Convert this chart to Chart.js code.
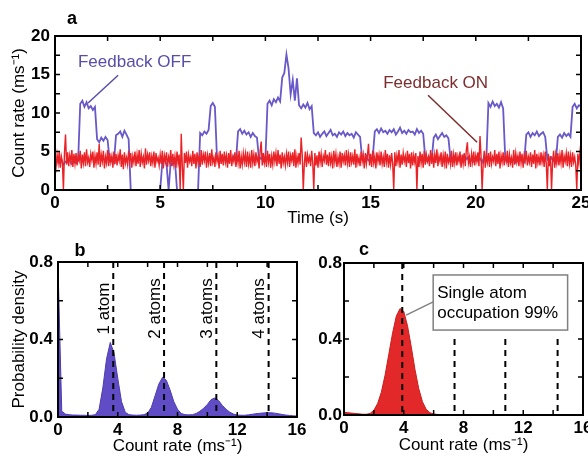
<!DOCTYPE html>
<html>
<head>
<meta charset="utf-8">
<script src="https://cdn.jsdelivr.net/npm/chart.js@4.4.1/dist/chart.umd.min.js"></script>
<style>
  html, body { margin: 0; padding: 0; background: #fff; overflow: hidden; width: 588px; height: 459px; }
  body { position: relative; }
  canvas { position: absolute; }
  #chartA { left: 0; top: 0; }
  #chartB { left: 0; top: 232px; }
  #chartC { left: 300px; top: 232px; }
</style>
</head>
<body>
<canvas id="chartA" width="600" height="232"></canvas>
<canvas id="chartB" width="320" height="227"></canvas>
<canvas id="chartC" width="300" height="227"></canvas>
<script>
// panel a: feedback ON trace, one sample every 0.05 s
const onStep = 0.05;
const feedbackOn = [
  4.1, 3.0, 4.6, 3.5, 5.0, 2.9, 4.4, 3.7, 0.0, 4.8, 7.2, 3.3, 4.9, 3.1, 4.5, 3.6, 5.2, 3.0, 4.7, 3.4,
  4.8, 3.2, 4.4, 3.8, 5.1, 2.8, 4.6, 3.5, 4.9, 3.1, 5.3, 3.6, 4.2, 3.0, 4.7, 3.9, 5.0, 2.9, 4.5, 3.4,
  4.9, 3.3, 6.0, 3.0, 4.6, 3.7, 5.1, 2.8, 4.3, 3.5, 5.2, 3.1, 4.8, 3.6, 4.4, 2.9, 5.0, 3.4, 4.7, 3.2,
  4.5, 3.8, 5.3, 3.0, 4.6, 2.7, 4.9, 3.5, 4.2, 3.3, 5.1, 3.7, 4.8, 2.9, 4.4, 3.6, 5.0, 3.1, 4.6, 3.4,
  5.2, 3.0, 4.7, 3.6, 4.3, 2.8, 5.4, 3.3, 4.6, 3.8, 4.9, 3.1, 4.4, 3.5, 5.0, 2.9, 4.8, 3.7, 4.2, 3.2,
  4.6, 3.4, 5.1, 2.8, 4.5, 3.7, 4.9, 3.0, 4.3, 3.6, 5.2, 3.1, 4.7, 3.3, 4.4, 2.9, 5.0, 3.5, 4.6, 0.0,
  7.3, 3.2, 0.0, 4.8, 3.5, 5.0, 2.9, 4.6, 3.7, 4.3, 3.1, 5.1, 3.4, 4.7, 2.8, 4.9, 3.6, 4.4, 3.0, 5.2,
  3.3, 4.6, 3.8, 5.0, 2.9, 4.5, 3.5, 4.8, 3.1, 5.3, 3.6, 4.2, 3.0, 4.9, 3.7, 4.4, 2.8, 5.1, 3.4, 4.7,
  3.2, 5.0, 3.6, 4.5, 2.9, 4.8, 3.4, 5.2, 3.1, 4.3, 3.7, 4.9, 3.0, 4.6, 3.5, 5.1, 2.8, 4.4, 3.3, 4.8,
  3.6, 4.7, 3.0, 5.0, 3.4, 4.4, 2.9, 5.2, 3.5, 4.6, 3.1, 4.9, 3.7, 4.3, 2.8, 5.1, 6.3, 3.2, 4.8, 3.5,
  4.5, 3.0, 5.1, 3.6, 4.7, 2.9, 4.4, 3.3, 5.0, 3.7, 4.8, 3.1, 5.2, 3.4, 4.6, 2.8, 4.9, 3.5, 4.3, 3.2,
  4.7, 3.6, 5.0, 3.0, 4.5, 3.8, 4.9, 3.1, 5.3, 2.9, 4.4, 3.5, 4.8, 3.3, 6.8, 4.6, 0.0, 3.4, 5.0, 3.0,
  4.6, 3.7, 4.3, 3.1, 5.1, 3.5, 0.0, 4.8, 3.2, 4.5, 2.9, 5.0, 3.6, 4.7, 3.0, 4.4, 3.8, 5.2, 3.3, 4.6,
  3.1, 4.9, 3.5, 4.4, 2.8, 5.1, 3.6, 4.7, 3.0, 4.3, 3.4, 5.0, 2.9, 4.8, 3.7, 4.5, 3.2, 5.2, 3.5, 4.6,
  3.0, 4.9, 3.6, 4.4, 3.3, 5.3, 2.9, 4.7, 3.5, 4.2, 3.1, 5.0, 3.7, 4.6, 2.8, 4.8, 3.4, 4.5, 6.0, 3.2,
  4.7, 3.0, 5.1, 3.5, 4.4, 2.8, 4.9, 3.7, 4.6, 3.2, 5.0, 3.4, 4.3, 3.0, 5.2, 3.6, 4.7, 2.9, 4.5, 3.3,
  4.8, 3.4, 0.0, 4.9, 3.1, 4.5, 3.6, 5.2, 2.9, 4.6, 3.3, 4.8, 3.7, 4.4, 3.0, 5.1, 3.5, 4.7, 2.8, 4.9,
  3.2, 4.5, 3.6, 4.8, 0.0, 4.4, 3.0, 5.0, 3.5, 4.7, 2.9, 5.1, 3.3, 4.6, 3.7, 4.3, 3.1, 5.2, 3.4, 4.8,
  2.9, 4.6, 3.5, 5.3, 3.1, 4.4, 3.7, 4.9, 3.0, 4.5, 3.4, 5.0, 2.8, 4.7, 3.6, 4.2, 3.3, 5.1, 3.0, 4.6,
  3.5, 4.9, 3.2, 4.4, 3.7, 5.0, 2.9, 4.6, 3.4, 4.8, 3.1, 5.2, 6.2, 3.5, 4.3, 3.0, 4.7, 3.6, 5.0, 3.2,
  4.5, 3.7, 4.9, 3.1, 7.0, 4.4, 0.0, 3.3, 5.1, 2.9, 4.6, 3.6, 4.8, 3.0, 5.0, 3.4, 4.3, 3.7, 5.2, 3.1,
  4.7, 3.4, 5.0, 2.8, 4.5, 3.6, 4.9, 3.2, 4.4, 3.7, 5.1, 3.0, 4.6, 3.5, 4.2, 2.9, 5.2, 3.3, 4.8, 3.6,
  4.4, 3.1, 5.0, 3.5, 4.7, 2.9, 4.5, 3.8, 5.1, 3.2, 4.3, 3.6, 4.9, 3.0, 4.6, 3.4, 5.2, 2.8, 4.7, 3.5,
  4.4, 3.2, 4.9, 3.6, 4.5, 3.0, 5.0, 3.4, 0.0, 4.7, 3.1, 4.4, 0.0, 3.7, 5.1, 2.9, 4.6, 3.5, 4.8, 3.2,
  4.6, 3.5, 5.2, 2.9, 4.4, 3.7, 4.8, 3.1, 5.0, 3.4, 4.5, 3.0, 4.9, 3.6, 4.3, 3.2, 0.0, 4.7, 3.5, 4.9,
  3.6
];

// panel a: feedback OFF trace, one sample every 0.1 s
const offStep = 0.1;
const feedbackOff = [
  3.4, 3.8, 3.5, 3.9, 3.3, 3.7, 3.6, 4.0, 3.4, 3.7,
  3.5, 3.8, 11.2, 11.6, 10.8, 11.4, 10.6, 10.9, 10.4, 10.8,
  6.6, 6.2, 6.8, 6.4, 6.9, 6.5, 3.8, 4.2, 3.6, 7.1,
  7.3, 7.6, 6.9, 7.7, 7.2, 6.6, 0.0, 0.0, 0.0, 0.0,
  0.0, 0.0, 0.0, 0.0, 0.0, 0.0, 0.0, 0.0, 0.0, 0.0,
  0.0, 3.6, 3.9, 3.4, 0.0, 3.7, 3.3, 3.8, 0.0, 0.0,
  0.0, 0.0, 0.0, 0.0, 0.0, 0.0, 0.0, 0.0, 0.0, 7.4,
  7.1, 7.6, 7.3, 7.8, 10.9, 11.3, 10.8, 4.1, 3.7, 4.3,
  3.8, 4.2, 3.6, 4.0, 3.9, 4.4, 3.7, 7.6, 7.9, 7.3,
  7.7, 7.2, 7.5, 6.9, 7.4, 7.0, 6.8, 3.9, 4.2, 3.7,
  4.0, 11.2, 11.6, 11.0, 11.8, 11.4, 12.0, 11.5, 14.6, 15.2,
  17.6, 15.8, 12.4, 14.3, 11.6, 14.5, 11.0, 10.6, 11.1, 10.7,
  11.3, 10.5, 10.9, 7.4, 7.1, 7.5, 6.9, 7.3, 7.6, 7.0,
  7.4, 7.8, 7.1, 7.3, 6.9, 7.5, 7.2, 7.6, 7.0, 7.4,
  7.1, 7.3, 6.8, 7.5, 7.2, 6.9, 4.0, 3.6, 4.4, 3.8,
  3.9, 4.2, 7.6, 7.9, 7.4, 8.0, 7.5, 7.7, 7.3, 7.8,
  7.5, 7.9, 7.2, 7.6, 8.1, 7.4, 7.7, 7.3, 7.8, 7.5,
  7.6, 7.2, 7.9, 7.4, 7.7, 7.3, 4.1, 3.7, 4.2, 3.9,
  6.8, 7.2, 6.6, 7.0, 7.4, 6.9, 7.1, 6.7, 4.0, 3.6,
  4.3, 3.8, 4.1, 3.5, 4.4, 3.9, 4.2, 3.6, 4.0, 3.7,
  4.2, 3.8, 4.1, 3.6, 4.3, 3.9, 11.3, 10.8, 11.5, 10.9,
  11.2, 10.7, 11.4, 10.6, 4.1, 3.7, 4.2, 3.8, 4.0, 3.6,
  4.3, 3.9, 4.1, 3.7, 7.2, 7.5, 6.9, 7.4, 7.1, 7.6,
  7.0, 7.3, 7.5, 6.9, 4.0, 3.6, 4.2, 3.8, 3.5, 6.9,
  7.2, 6.8, 7.4, 7.0, 7.3, 6.9, 10.8, 11.2, 10.6, 11.0,
  10.9
];

// panels b and c: histograms, bins every 0.25 ms^-1 from 0 to 16
const binStep = 0.25;

const histOff = [
  0.78, 0.03, 0.015, 0.012, 0.010, 0.010, 0.009, 0.009, 0.008, 0.009,
  0.012, 0.04, 0.15, 0.30, 0.385, 0.33, 0.20, 0.08, 0.025, 0.012,
  0.010, 0.009, 0.010, 0.012, 0.020, 0.050, 0.110, 0.170, 0.205, 0.190,
  0.140, 0.080, 0.040, 0.018, 0.012, 0.011, 0.012, 0.018, 0.030, 0.045,
  0.065, 0.090, 0.098, 0.085, 0.060, 0.040, 0.025, 0.015, 0.010, 0.009,
  0.009, 0.011, 0.014, 0.017, 0.019, 0.021, 0.022, 0.022, 0.020, 0.017,
  0.013, 0.010, 0.008, 0.006, 0.005
];

const histOn = [
  0.015, 0.012, 0.010, 0.008, 0.006, 0.004, 0.004, 0.008, 0.025, 0.060,
  0.120, 0.210, 0.320, 0.430, 0.520, 0.560, 0.545, 0.470, 0.360, 0.240,
  0.140, 0.070, 0.030, 0.012, 0.005, 0.003, 0.002, 0.002, 0.001, 0.001,
  0.001, 0.001, 0.001, 0.001, 0.001, 0, 0, 0, 0, 0,
  0, 0, 0, 0, 0, 0, 0, 0, 0, 0,
  0, 0, 0, 0, 0, 0, 0, 0, 0, 0,
  0, 0, 0, 0, 0
];

const atomLinesB = [3.7, 7.1, 10.6, 14.1];
const atomLabels = ['1 atom', '2 atoms', '3 atoms', '4 atoms'];
const atomLinesC = [3.9, 7.4, 10.8, 14.3];

const toPoints = (arr, step) => arr.map((v, i) => ({ x: +(i * step).toFixed(2), y: v }));

const FAMILY = "'Liberation Sans', Arial, sans-serif";
Chart.defaults.font.family = FAMILY;
Chart.defaults.font.size = 17;
Chart.defaults.color = '#000';

function frameTicks(chart, xStep, yStep) {
  const { ctx, chartArea: a, scales: { x, y } } = chart;
  ctx.save();
  ctx.strokeStyle = '#000';
  ctx.lineWidth = 1.5;
  ctx.beginPath();
  for (let i = 0; x.min + i * xStep <= x.max + 1e-9; i++) {
    const px = x.getPixelForValue(x.min + i * xStep);
    ctx.moveTo(px, a.bottom); ctx.lineTo(px, a.bottom - 5);
    ctx.moveTo(px, a.top); ctx.lineTo(px, a.top + 5);
  }
  for (let i = 0; y.min + i * yStep <= y.max + 1e-9; i++) {
    const py = y.getPixelForValue(y.min + i * yStep);
    ctx.moveTo(a.left, py); ctx.lineTo(a.left + 5, py);
    ctx.moveTo(a.right, py); ctx.lineTo(a.right - 5, py);
  }
  ctx.stroke();
  ctx.lineWidth = 2;
  ctx.strokeRect(a.left, a.top, a.right - a.left, a.bottom - a.top);
  ctx.restore();
}

function panelLetter(chart, letter, px, py) {
  const ctx = chart.ctx;
  ctx.save();
  ctx.font = 'bold 18px ' + FAMILY;
  ctx.fillStyle = '#000';
  ctx.textAlign = 'center';
  ctx.textBaseline = 'middle';
  ctx.fillText(letter, px, py);
  ctx.restore();
}

function leader(chart, x0, y0, x1, y1, color) {
  const { ctx, scales: { x, y } } = chart;
  ctx.save();
  ctx.strokeStyle = color;
  ctx.lineWidth = 1.5;
  ctx.beginPath();
  ctx.moveTo(x.getPixelForValue(x0), y.getPixelForValue(y0));
  ctx.lineTo(x.getPixelForValue(x1), y.getPixelForValue(y1));
  ctx.stroke();
  ctx.restore();
}

function note(chart, text, xv, yv, color, rotate) {
  const { ctx, scales: { x, y } } = chart;
  ctx.save();
  ctx.font = '17px ' + FAMILY;
  ctx.fillStyle = color;
  ctx.textBaseline = 'middle';
  ctx.translate(x.getPixelForValue(xv), y.getPixelForValue(yv));
  if (rotate) {
    ctx.rotate(-Math.PI / 2);
    ctx.textAlign = 'center';
  } else {
    ctx.textAlign = 'left';
  }
  ctx.fillText(text, 0, 0);
  ctx.restore();
}

function dashed(chart, xv, y0, y1) {
  const { ctx, scales: { x, y } } = chart;
  const px = x.getPixelForValue(xv);
  ctx.save();
  ctx.strokeStyle = '#000';
  ctx.lineWidth = 2;
  ctx.setLineDash([6, 5]);
  ctx.beginPath();
  ctx.moveTo(px, y.getPixelForValue(y0));
  ctx.lineTo(px, y.getPixelForValue(y1));
  ctx.stroke();
  ctx.restore();
}

const tickFont = { family: FAMILY, size: 17, weight: 'bold' };
const titleFont = { family: FAMILY, size: 17, weight: 'normal' };

function axisX(min, max, step, title, height, pad) {
  return {
    type: 'linear', min: min, max: max,
    grid: { display: false, drawTicks: false },
    border: { display: false },
    ticks: { stepSize: step, padding: 3, maxRotation: 0, font: tickFont },
    title: { display: true, text: title, font: titleFont, padding: { top: 0, bottom: pad } },
    afterFit: s => { s.height = height; }
  };
}

function axisY(min, max, step, title, width, pad, fmt) {
  return {
    min: min, max: max,
    grid: { display: false, drawTicks: false },
    border: { display: false },
    ticks: { stepSize: step, padding: pad, font: tickFont, callback: fmt },
    title: { display: !!title, text: title || '', font: titleFont, padding: { top: 9, bottom: 0 } },
    afterFit: s => { s.width = width; }
  };
}

const baseOptions = {
  responsive: false,
  animation: false,
  events: [],
  plugins: { legend: { display: false }, tooltip: { enabled: false } }
};

// panel a
new Chart(document.getElementById('chartA'), {
  type: 'line',
  data: {
    datasets: [
      { label: 'Feedback ON', data: toPoints(feedbackOn, onStep), borderColor: 'rgb(234,34,38)',
        borderWidth: 1.4, pointRadius: 0, order: 0 },
      { label: 'Feedback OFF', data: toPoints(feedbackOff, offStep), borderColor: 'rgb(104,88,200)',
        borderWidth: 1.8, pointRadius: 0, order: 1 }
    ]
  },
  options: {
    ...baseOptions,
    layout: { padding: { top: 36, right: 19, left: 0, bottom: 0 } },
    scales: {
      x: axisX(0, 25, 5, 'Time (s)', 42, 3),
      y: axisY(0, 20, 5, 'Count rate (ms\u207B\u00B9)', 55, 5)
    }
  },
  plugins: [{
    id: 'decorA',
    afterDatasetsDraw(chart) {
      frameTicks(chart, 2.5, 2.5);
      panelLetter(chart, 'a', 72, 19);
      note(chart, 'Feedback OFF', 1.09, 16.6, 'rgb(88,78,168)');
      leader(chart, 3.0, 14.9, 1.57, 11.3, 'rgb(88,78,168)');
      note(chart, 'Feedback ON', 15.6, 13.8, 'rgb(125,45,45)');
      leader(chart, 17.73, 12.3, 20.06, 6.2, 'rgb(125,45,45)');
    }
  }]
});

// panel b
new Chart(document.getElementById('chartB'), {
  type: 'line',
  data: {
    datasets: [
      { label: 'Feedback OFF', data: toPoints(histOff, binStep), borderColor: 'rgb(80,60,175)',
        backgroundColor: 'rgb(96,76,196)', fill: 'origin', borderWidth: 1, pointRadius: 0 }
    ]
  },
  options: {
    ...baseOptions,
    layout: { padding: { top: 30, right: 23, left: 0, bottom: 0 } },
    scales: {
      x: axisX(0, 16, 4, 'Count rate (ms\u207B\u00B9)', 42, 2),
      y: axisY(0, 0.8, 0.4, 'Probability density', 58, 5, v => v.toFixed(1))
    }
  },
  plugins: [{
    id: 'decorB',
    afterDatasetsDraw(chart) {
      atomLinesB.forEach((xv, i) => {
        dashed(chart, xv, 0.8, 0);
        note(chart, atomLabels[i], xv - 0.6, 0.56, '#000', true);
      });
      frameTicks(chart, 2, 0.2);
      panelLetter(chart, 'b', 80, 19);
    }
  }]
});

// panel c
new Chart(document.getElementById('chartC'), {
  type: 'line',
  data: {
    datasets: [
      { label: 'Feedback ON', data: toPoints(histOn, binStep), borderColor: 'rgb(200,30,30)',
        backgroundColor: 'rgb(226,40,40)', fill: 'origin', borderWidth: 1, pointRadius: 0 }
    ]
  },
  options: {
    ...baseOptions,
    layout: { padding: { top: 31, right: 17, left: 0, bottom: 0 } },
    scales: {
      x: axisX(0, 16, 4, 'Count rate (ms\u207B\u00B9)', 44, 3),
      y: axisY(0, 0.8, 0.4, null, 44, 2, v => v.toFixed(1))
    }
  },
  plugins: [{
    id: 'decorC',
    afterDatasetsDraw(chart) {
      const { ctx, scales: { x, y } } = chart;
      dashed(chart, atomLinesC[0], 0.8, 0);
      atomLinesC.slice(1).forEach(xv => dashed(chart, xv, 0.4, 0));
      // label box
      const bx0 = x.getPixelForValue(5.97), bx1 = x.getPixelForValue(14.97);
      const by0 = y.getPixelForValue(0.737), by1 = y.getPixelForValue(0.447);
      ctx.save();
      ctx.fillStyle = '#fff';
      ctx.fillRect(bx0, by0, bx1 - bx0, by1 - by0);
      ctx.strokeStyle = 'rgb(128,128,128)';
      ctx.lineWidth = 1.5;
      ctx.strokeRect(bx0, by0, bx1 - bx0, by1 - by0);
      ctx.restore();
      note(chart, 'Single atom', 6.24, 0.642, '#000');
      note(chart, 'occupation 99%', 6.24, 0.537, '#000');
      leader(chart, 5.97, 0.595, 4.16, 0.526, 'rgb(128,128,128)');
      frameTicks(chart, 2, 0.2);
      panelLetter(chart, 'c', 64, 18);
    }
  }]
});
</script>
</body>
</html>
